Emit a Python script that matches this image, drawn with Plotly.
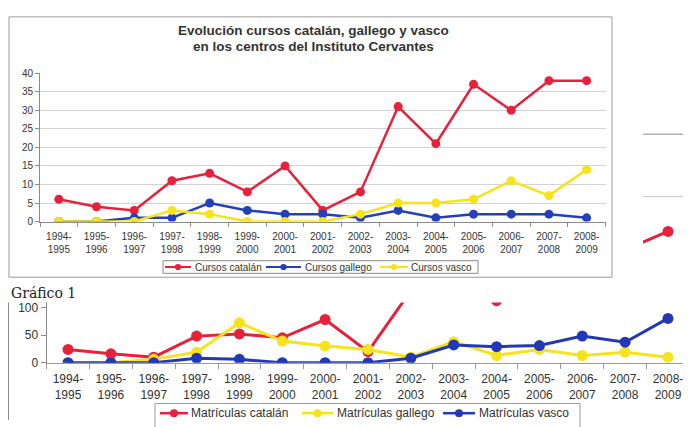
import plotly.graph_objects as go

# ---------------- data ----------------
periods = ["1994-1995", "1995-1996", "1996-1997", "1997-1998", "1998-1999",
           "1999-2000", "2000-2001", "2001-2002", "2002-2003", "2003-2004",
           "2004-2005", "2005-2006", "2006-2007", "2007-2008", "2008-2009"]

cursos_catalan = [6, 4, 3, 11, 13, 8, 15, 3, 8, 31, 21, 37, 30, 38, 38]
cursos_gallego = [0, 0, 1, 1, 5, 3, 2, 2, 1, 3, 1, 2, 2, 2, 1]
cursos_vasco = [0, 0, 0, 3, 2, 0, 0, 0, 2, 5, 5, 6, 11, 7, 14]

matriculas_catalan = [24, 16, 10, 48, 52, 45, 78, 20, 130, 170, 112, 160, 190, 204, 237]
matriculas_gallego = [0, 0, 6, 19, 72, 39, 30, 24, 10, 38, 13, 24, 13, 19, 10]
matriculas_vasco = [0, 0, 0, 8, 6, 0, 0, 0, 8, 32, 29, 31, 48, 37, 80]

top_title_1 = "Evolución cursos catalán, gallego y vasco"
top_title_2 = "en los centros del Instituto Cervantes"
top_yticks = [0, 5, 10, 15, 20, 25, 30, 35, 40]
bottom_yticks = [0, 50, 100]
top_legend_names = ["Cursos catalán", "Cursos gallego", "Cursos vasco"]
bottom_legend_names = ["Matrículas catalán", "Matrículas gallego", "Matrículas vasco"]

labels = [p.replace("-", "-<br>") for p in periods]

# ---------------- layout helpers ----------------
# the page body has an 8px margin, so the figure is drawn 8px in and 8px down
OFF = 8
W, H = 691 - OFF, 427 - OFF
def X(p):
    return max(p - OFF, 0.5) / W
def Y(p):
    return 1 - (p - OFF) / H

RED = "#E8213B"
BLUE_T = "#2440B8"
YEL_T = "#F7E21B"
BLUE_B = "#2338B5"
YEL_B = "#F5E31E"
FONT = "Liberation Sans, Arial, sans-serif"

# bottom chart geometry (pixels of the page)
B0 = 368          # y of value 0
BPX = 0.57        # pixels per unit
BTOP = 306        # top of the visible strip
BFRAME = 199      # top of the bottom chart plot area (seen at the right)
b_vis_max = (B0 - BTOP) / BPX
b_full_max = (B0 - BFRAME) / BPX

fig = go.Figure()

top_cols = [RED, BLUE_T, YEL_T]
bottom_cols = [RED, YEL_B, BLUE_B]

# ---- top chart ----
for name, vals, col in zip(top_legend_names, [cursos_catalan, cursos_gallego, cursos_vasco], top_cols):
    fig.add_trace(go.Scatter(x=labels, y=vals, name=name, mode="lines+markers",
                             line=dict(color=col, width=2.5),
                             marker=dict(color=col, size=9),
                             xaxis="x", yaxis="y", showlegend=False))

# ---- bottom chart (visible strip) ----
for name, vals, col in zip(bottom_legend_names,
                           [matriculas_catalan, matriculas_gallego, matriculas_vasco], bottom_cols):
    fig.add_trace(go.Scatter(x=labels, y=vals, name=name, mode="lines+markers",
                             line=dict(color=col, width=3),
                             marker=dict(color=col, size=11),
                             xaxis="x2", yaxis="y2", showlegend=False))

# ---- bottom chart (sliver visible at the right, behind the top chart) ----
fig.add_trace(go.Scatter(x=labels, y=matriculas_catalan, mode="lines+markers",
                         line=dict(color=RED, width=3),
                         marker=dict(color=RED, size=11),
                         xaxis="x3", yaxis="y3", showlegend=False))

fig.update_layout(
    width=W, height=H,
    margin=dict(l=0, r=0, t=0, b=0),
    paper_bgcolor="white", plot_bgcolor="white",
    font=dict(family=FONT, color="#333333"),
    showlegend=False,
    xaxis=dict(domain=[X(40), X(605.5)], type="category", categoryorder="array",
               categoryarray=labels, range=[-0.5, 14.5], anchor="y",
               showline=True, linecolor="#8a8a8a", linewidth=1,
               ticks="outside", tickson="boundaries", ticklen=4, tickcolor="#8a8a8a",
               ticklabelstandoff=5,
               tickfont=dict(size=10, color="#333333"), showgrid=False),
    yaxis=dict(domain=[Y(222.7), Y(70)], range=[0, 40], tickvals=top_yticks, anchor="x",
               showline=True, linecolor="#8a8a8a", ticks="outside", ticklen=4,
               tickcolor="#8a8a8a", showgrid=True, gridcolor="#d2d2d2", gridwidth=1,
               zeroline=False, tickfont=dict(size=10, color="#333333")),
    xaxis2=dict(domain=[X(46.6), X(689.4)], type="category", categoryorder="array",
                categoryarray=labels, range=[-0.5, 14.5], anchor="y2",
                showline=True, linecolor="#9a9a9a", linewidth=1,
                ticks="outside", tickson="boundaries", ticklen=5, tickcolor="#9a9a9a",
                ticklabelstandoff=5,
                tickfont=dict(size=12, color="#333333"), showgrid=False),
    yaxis2=dict(domain=[Y(B0), Y(BTOP)], range=[0, b_vis_max], tickvals=bottom_yticks, anchor="x2",
                showline=True, linecolor="#8a8a8a", ticks="outside", ticklen=5,
                tickcolor="#8a8a8a", showgrid=False, zeroline=False,
                tickfont=dict(size=12, color="#333333")),
    xaxis3=dict(domain=[X(643), X(689.4)], type="category", categoryorder="array",
                categoryarray=labels, range=[13.415, 14.5], anchor="y3", visible=False),
    yaxis3=dict(domain=[Y(BTOP), Y(BFRAME)], range=[b_vis_max, b_full_max], anchor="x3", visible=False),
)

# frames and stray lines of the scanned page
shapes = [
    dict(type="rect", xref="paper", yref="paper", x0=X(9), x1=X(612), y0=Y(280), y1=Y(12),
         line=dict(color="#9a9a9a", width=1), layer="below"),
    dict(type="line", xref="paper", yref="paper", x0=X(4), x1=X(4), y0=Y(BTOP), y1=0,
         line=dict(color="#8a8a8a", width=1)),
    dict(type="line", xref="paper", yref="paper", x0=X(643), x1=X(688), y0=Y(BFRAME - 2), y1=Y(BFRAME - 2),
         line=dict(color="#c4c4c4", width=1)),
    dict(type="line", xref="paper", yref="paper", x0=X(688), x1=X(688), y0=Y(BFRAME - 2), y1=Y(B0),
         line=dict(color="#c4c4c4", width=1)),
    dict(type="line", xref="paper", yref="paper", x0=X(643), x1=1, y0=Y(132.7), y1=Y(132.7),
         line=dict(color="#8a8a8a", width=1)),
]

# ---- hand-built legends (Excel style, tight boxes) ----
def legend_box(x0, x1, y0, y1, color):
    return dict(type="rect", xref="paper", yref="paper", x0=X(x0), x1=X(x1),
                y0=Y(y1), y1=Y(y0), line=dict(color=color, width=1),
                fillcolor="white", layer="below")

def legend_symbol(xa, xb, yc, r, col, lw):
    xm = (xa + xb) / 2
    return [
        dict(type="line", xref="paper", yref="paper", x0=X(xa), x1=X(xb), y0=Y(yc), y1=Y(yc),
             line=dict(color=col, width=lw)),
        dict(type="circle", xref="paper", yref="paper", x0=X(xm - r), x1=X(xm + r),
             y0=Y(yc + r), y1=Y(yc - r), fillcolor=col, line=dict(color=col, width=0)),
    ]

shapes.append(legend_box(163, 478, 263, 276, "#8a8a8a"))
top_leg = [(165, 191, 192.5), (266, 301, 303), (380, 408, 409)]
for (xa, xb, xt), col, name in zip(top_leg, top_cols, top_legend_names):
    shapes += legend_symbol(xa, xb, 269.5, 3.2, col, 2)
    fig.add_annotation(text=name, xref="paper", yref="paper", x=X(xt), y=Y(269.5),
                       xanchor="left", yanchor="middle", showarrow=False,
                       font=dict(size=10, color="#333333", family=FONT))

shapes.append(legend_box(155, 580, 410, 440, "#9a9a9a"))
bot_leg = [(160, 188, 189), (302, 333, 334.5), (443, 475, 476.5)]
for (xa, xb, xt), col, name in zip(bot_leg, bottom_cols, bottom_legend_names):
    shapes += legend_symbol(xa, xb, 420, 4, col, 2.5)
    fig.add_annotation(text=name, xref="paper", yref="paper", x=X(xt), y=Y(420),
                       xanchor="left", yanchor="middle", showarrow=False,
                       font=dict(size=12, color="#333333", family=FONT))

fig.update_layout(shapes=shapes)

fig.add_annotation(text="<b>" + top_title_1 + "</b>", xref="paper", yref="paper",
                   x=X(313), y=Y(26), xanchor="center", yanchor="middle", showarrow=False,
                   font=dict(size=13.5, color="#333333", family=FONT))
fig.add_annotation(text="<b>" + top_title_2 + "</b>", xref="paper", yref="paper",
                   x=X(313), y=Y(43), xanchor="center", yanchor="middle", showarrow=False,
                   font=dict(size=13.5, color="#333333", family=FONT))
fig.add_annotation(text="Gráfico 1", xref="paper", yref="paper",
                   x=X(5), y=Y(296), xanchor="left", yanchor="middle", showarrow=False,
                   font=dict(size=14, color="#222222", family="DejaVu Serif, serif"))

fig.write_html("out.html")
